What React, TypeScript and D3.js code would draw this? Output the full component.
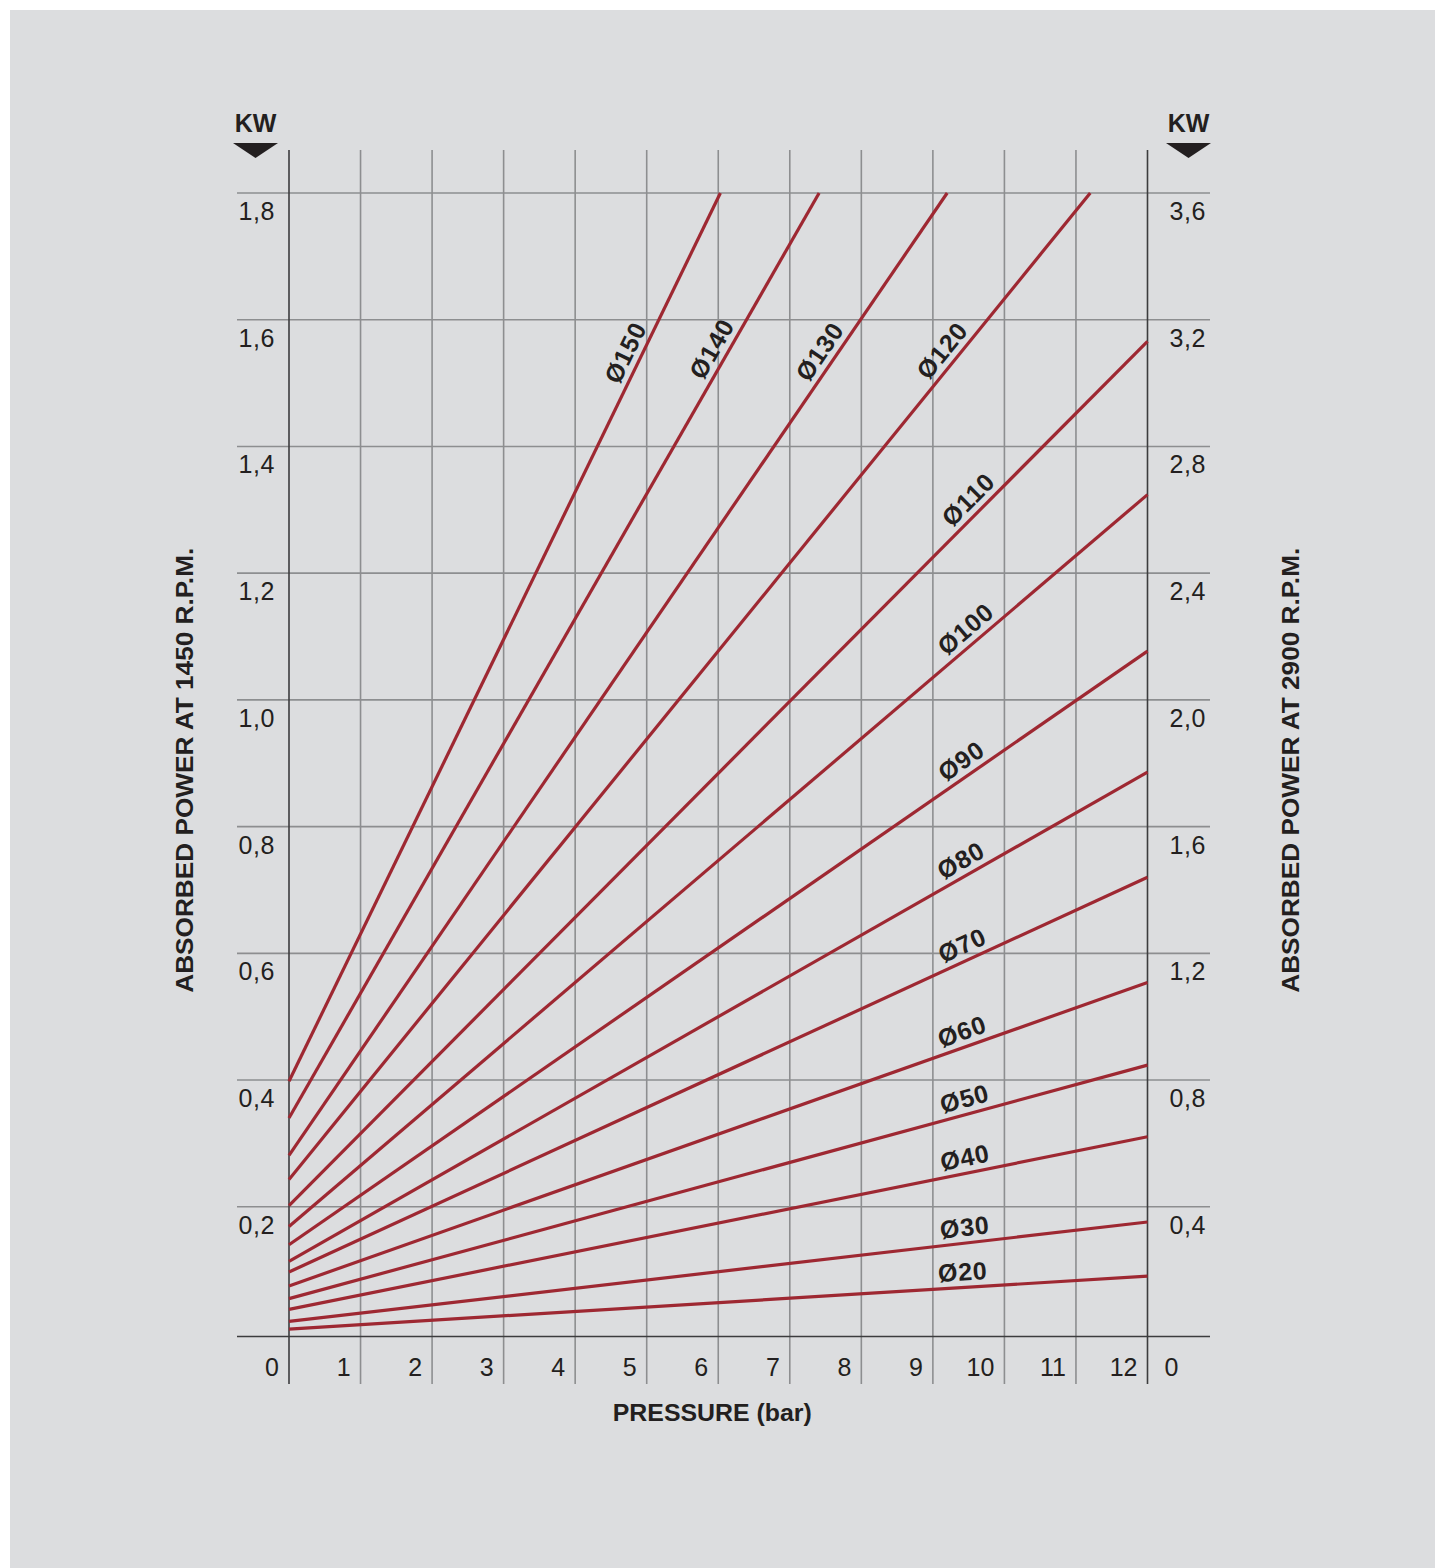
import React from "react";
import * as d3 from "d3";

// ---- data ----
const seriesNames = ["Ø20", "Ø30", "Ø40", "Ø50", "Ø60", "Ø70", "Ø80", "Ø90", "Ø100", "Ø110", "Ø120", "Ø130", "Ø140", "Ø150"];
const startKW = [0.007, 0.019, 0.038, 0.055, 0.075, 0.097, 0.114, 0.14, 0.169, 0.202, 0.243, 0.281, 0.34, 0.398];
const endPressure = [12, 12, 12, 12, 12, 12, 12, 12, 12, 12, 11.2, 9.2, 7.41, 6.03];
const endKW = [0.0905, 0.176, 0.3105, 0.4235, 0.554, 0.72, 0.886, 1.077, 1.324, 1.566, 1.8, 1.8, 1.8, 1.8];
const labelPressure = [9.43, 9.47, 9.49, 9.5, 9.48, 9.5, 9.5, 9.52, 9.6, 9.65, 9.3, 7.6, 6.1, 4.9];

const pressureTicks = [0, 1, 2, 3, 4, 5, 6, 7, 8, 9, 10, 11, 12];
const leftTicks = [0.2, 0.4, 0.6, 0.8, 1.0, 1.2, 1.4, 1.6, 1.8];
const rightTicks = [0.4, 0.8, 1.2, 1.6, 2.0, 2.4, 2.8, 3.2, 3.6];

const W = 1435;
const H = 1568;
const FONT = "'Liberation Sans', Arial, Helvetica, sans-serif";
const RED = "#9e2832";
const GRID = "#8d8e90";
const AXIS = "#3c3c3e";
const TXT = "#231f20";

const fmt = (v: number) => d3.format(".1f")(v).replace(".", ",");

export default function App() {
  const x = d3.scaleLinear().domain([0, 12]).range([289, 1147.5]);
  const y = d3.scaleLinear().domain([0, 1.8]).range([1333.5, 193]);
  const yR = d3.scaleLinear().domain([0, 3.6]).range([1333.5, 193]);

  const gridTop = 150;
  const gridBottom = 1384;
  const gridLeft = 237;
  const gridRight = 1210;
  const line = d3
    .line<[number, number]>()
    .x((d) => x(d[0]))
    .y((d) => y(d[1]));

  const series = seriesNames.map((name, i) => {
    const pts: [number, number][] = [
      [0, startKW[i]],
      [endPressure[i], endKW[i]],
    ];
    const slope = (endKW[i] - startKW[i]) / endPressure[i];
    const lp = labelPressure[i];
    const lv = startKW[i] + slope * lp;
    const ang =
      (Math.atan2(y(endKW[i]) - y(startKW[i]), x(endPressure[i]) - x(0)) * 180) / Math.PI;
    return { name, pts, lx: x(lp), ly: y(lv), ang };
  });

  const midX = (x(0) + x(12)) / 2;
  const midY = (y(0) + y(1.8)) / 2;

  return (
    <svg
      width={W}
      height={H}
      style={{ position: "absolute", left: 0, top: 0, display: "block" }}
      fontFamily={FONT}
    >
      <rect x={0} y={0} width={W} height={H} fill="#ffffff" />
      <rect x={10} y={10} width={W - 10} height={H - 10} fill="#dcdddf" />

      {/* horizontal gridlines */}
      {leftTicks.map((t) => (
        <line key={"h" + t} x1={gridLeft} x2={gridRight} y1={y(t)} y2={y(t)} stroke={GRID} strokeWidth={1.6} />
      ))}
      {/* vertical gridlines */}
      {pressureTicks.map((p) => (
        <line
          key={"v" + p}
          x1={x(p)}
          x2={x(p)}
          y1={gridTop}
          y2={gridBottom}
          stroke={p === 0 || p === 12 ? AXIS : GRID}
          strokeWidth={1.6}
        />
      ))}
      {/* bottom axis */}
      <line x1={gridLeft} x2={gridRight} y1={y(0) + 3} y2={y(0) + 3} stroke={AXIS} strokeWidth={1.6} />

      {/* series lines */}
      {series.map((s) => (
        <path key={s.name} d={line(s.pts) || ""} fill="none" stroke={RED} strokeWidth={3.2} />
      ))}

      {/* series labels */}
      {series.map((s) => (
        <g key={"l" + s.name} transform={`translate(${s.lx},${s.ly}) rotate(${s.ang})`}>
          <text x={0} y={-7} textAnchor="middle" fontSize={25} fontWeight="bold" letterSpacing={0.8} fill={TXT}>
            {s.name}
          </text>
        </g>
      ))}

      {/* left tick labels */}
      {leftTicks.map((t) => (
        <text key={"lt" + t} x={x(0) - 14} y={y(t) + 27} textAnchor="end" fontSize={25} letterSpacing={0.6} fill={TXT}>
          {fmt(t)}
        </text>
      ))}
      {/* right tick labels */}
      {rightTicks.map((t) => (
        <text key={"rt" + t} x={x(12) + 22} y={yR(t) + 27} textAnchor="start" fontSize={25} letterSpacing={0.6} fill={TXT}>
          {fmt(t)}
        </text>
      ))}
      {/* pressure tick labels */}
      {pressureTicks.map((p) => (
        <text key={"pt" + p} x={x(p) - 10} y={1376} textAnchor="end" fontSize={25} fill={TXT}>
          {String(p)}
        </text>
      ))}
      <text x={x(12) + 17} y={1376} textAnchor="start" fontSize={25} fill={TXT}>
        0
      </text>

      {/* KW headers */}
      {[x(0) - 33.5, x(12) + 41].map((cx, i) => (
        <g key={"kw" + i}>
          <text x={cx} y={132} textAnchor="middle" fontSize={25} fontWeight="bold" fill={TXT}>
            KW
          </text>
          <path d={`M${cx - 22.5},143 L${cx + 22.5},143 L${cx},158 Z`} fill={TXT} />
        </g>
      ))}

      {/* axis titles */}
      <text
        transform={`translate(184,${midY + 7}) rotate(-90)`}
        textAnchor="middle"
        dominantBaseline="central"
        fontSize={24}
        fontWeight="bold"
        fill={TXT}
        textLength={445}
        lengthAdjust="spacingAndGlyphs"
      >
        ABSORBED POWER AT 1450 R.P.M.
      </text>
      <text
        transform={`translate(1290,${midY + 7}) rotate(-90)`}
        textAnchor="middle"
        dominantBaseline="central"
        fontSize={24}
        fontWeight="bold"
        fill={TXT}
        textLength={445}
        lengthAdjust="spacingAndGlyphs"
      >
        ABSORBED POWER AT 2900 R.P.M.
      </text>
      <text
        x={midX - 6}
        y={1421}
        textAnchor="middle"
        fontSize={24}
        fontWeight="bold"
        fill={TXT}
        textLength={199}
        lengthAdjust="spacingAndGlyphs"
      >
        PRESSURE (bar)
      </text>
    </svg>
  );
}
